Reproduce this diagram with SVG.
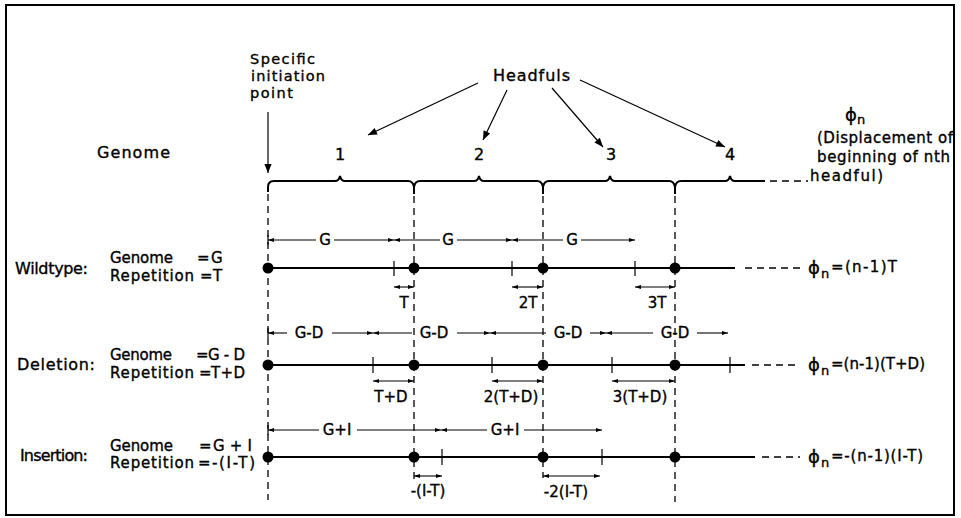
<svg xmlns="http://www.w3.org/2000/svg" width="961" height="518" viewBox="0 0 961 518">
<defs>
  <style>
    text { font-family: "DejaVu Sans", "Liberation Sans", sans-serif; font-size: 15px; fill: #000; stroke: #000; stroke-width: 0.35; }
    .hd { font-size: 16px; }
    .lbl { font-size: 14.5px; }
    .mid { text-anchor: middle; }
    .phi { font-size: 18px; }
    .sub { font-size: 13px; }
    .thin { stroke: #000; stroke-width: 1.2; fill: none; }
    .dim { stroke: #000; stroke-width: 1.1; fill: none; }
    .main { stroke: #000; stroke-width: 2; fill: none; }
    .dash { stroke: #000; stroke-width: 1.3; stroke-dasharray: 7 5; fill: none; }
    .tick { stroke: #000; stroke-width: 1.2; }
    .frame { stroke: #000; stroke-width: 2; fill: none; }
  </style>
  <marker id="ah" viewBox="0 0 10 10" refX="10" refY="5" markerWidth="10" markerHeight="9" markerUnits="userSpaceOnUse" orient="auto-start-reverse">
    <path d="M0,1 L10,5 L0,9 z" fill="#000"/>
  </marker>
  <marker id="dh" viewBox="0 0 10 10" refX="10" refY="5" markerWidth="7" markerHeight="6" markerUnits="userSpaceOnUse" orient="auto-start-reverse">
    <path d="M0,1.5 L10,5 L0,8.5 z" fill="#000"/>
  </marker>
</defs>

<rect class="frame" x="6" y="5" width="948" height="510"/>

<!-- header labels -->
<g id="label-initiation">
  <text class="lbl" x="250" y="64" textLength="65">Specific</text>
  <text class="lbl" x="251" y="81" textLength="74">initiation</text>
  <text class="lbl" x="250" y="98" textLength="43">point</text>
</g>
<g id="label-genome">
  <text class="hd" x="97" y="158" textLength="73">Genome</text>
</g>
<g id="label-headfuls">
  <text class="hd" x="493" y="81" textLength="77">Headfuls</text>
</g>
<g id="headful-numbers">
  <text class="hd mid" x="340" y="160">1</text>
  <text class="hd mid" x="479" y="160">2</text>
  <text class="hd mid" x="611" y="160">3</text>
  <text class="hd mid" x="730" y="160">4</text>
</g>
<g id="label-phi">
  <text class="phi" x="845" y="121">ϕ</text>
  <text class="sub" x="857" y="124">n</text>
  <text x="817" y="143" textLength="136">(Displacement of</text>
  <text x="817" y="162" textLength="133">beginning of nth</text>
  <text x="810" y="181" textLength="73">headful)</text>
</g>

<!-- genome scale: brace line split into headfuls -->
<g id="genome-scale">
  <path class="main" stroke-width="1.6" d="M268,192 L268,187 Q268,181 274,181 L335,181 Q339,181 340,176 Q341,181 345,181 L408,181 Q413,181 414,187 Q415,181 420,181 L474,181 Q478,181 479,176 Q480,181 484,181 L537,181 Q542,181 543,187 Q544,181 549,181 L605,181 Q609,181 610,176 Q611,181 615,181 L669,181 Q674,181 675,187 Q676,181 681,181 L725,181 Q729,181 730,176 Q731,181 735,181 L765,181"/>
  <line class="main" stroke-width="1.6" x1="414" y1="186" x2="414" y2="194"/>
  <line class="main" stroke-width="1.6" x1="543" y1="186" x2="543" y2="194"/>
  <line class="main" stroke-width="1.6" x1="675" y1="186" x2="675" y2="194"/>
  <line class="dash" x1="770" y1="181" x2="808" y2="181"/>
</g>

<!-- packaging start positions -->
<g id="guides">
  <line class="dash" x1="268" y1="194" x2="268" y2="500"/>
  <line class="dash" x1="414" y1="196" x2="414" y2="482"/>
  <line class="dash" x1="543" y1="196" x2="543" y2="478"/>
  <line class="dash" x1="675" y1="196" x2="675" y2="502"/>
</g>

<!-- wildtype -->
<g id="row-wildtype">
  <text class="hd" x="15" y="274" textLength="73">Wildtype:</text>
  <text x="110" y="263" textLength="63">Genome</text>
  <text x="197" y="263">=</text>
  <text x="211" y="263">G</text>
  <text x="110" y="281" textLength="84">Repetition</text>
  <text x="200" y="281">=</text>
  <text x="213" y="281">T</text>

  <line class="main" x1="268" y1="268" x2="735" y2="268"/>
  <line class="dash" x1="745" y1="268" x2="800" y2="268"/>
  <line class="tick" x1="394" y1="261" x2="394" y2="276"/>
  <line class="tick" x1="512" y1="261" x2="512" y2="276"/>
  <line class="tick" x1="635" y1="261" x2="635" y2="276"/>
  <circle cx="268" cy="268" r="5.5"/>
  <circle cx="414" cy="268" r="5.5"/>
  <circle cx="543" cy="268" r="5.5"/>
  <circle cx="675" cy="268" r="5.5"/>

  <line class="tick" x1="268" y1="235" x2="268" y2="245"/>
  <line class="dim" x1="268" y1="240" x2="316" y2="240" marker-start="url(#dh)"/>
  <text class="mid" x="325" y="245">G</text>
  <line class="dim" x1="334" y1="240" x2="394" y2="240" marker-end="url(#dh)"/>
  <line class="dim" x1="394" y1="240" x2="440" y2="240" marker-start="url(#dh)"/>
  <text class="mid" x="448" y="245">G</text>
  <line class="dim" x1="457" y1="240" x2="512" y2="240" marker-end="url(#dh)"/>
  <line class="dim" x1="512" y1="240" x2="563" y2="240" marker-start="url(#dh)"/>
  <text class="mid" x="572" y="245">G</text>
  <line class="dim" x1="581" y1="240" x2="635" y2="240" marker-end="url(#dh)"/>

  <line class="dim" x1="394" y1="287" x2="414" y2="287" marker-start="url(#dh)" marker-end="url(#dh)"/>
  <text class="mid" x="404" y="308">T</text>
  <line class="dim" x1="512" y1="287" x2="543" y2="287" marker-start="url(#dh)" marker-end="url(#dh)"/>
  <text class="mid" x="528" y="308">2T</text>
  <line class="dim" x1="635" y1="287" x2="675" y2="287" marker-start="url(#dh)" marker-end="url(#dh)"/>
  <text class="mid" x="657" y="308">3T</text>

  <text class="phi" x="808" y="274">ϕ</text>
  <text class="sub" x="821" y="278">n</text>
  <text x="831" y="272" textLength="66">=(n-1)T</text>
</g>

<!-- deletion -->
<g id="row-deletion">
  <text class="hd" x="17" y="370" textLength="78">Deletion:</text>
  <text x="110" y="360" textLength="62">Genome</text>
  <text x="196" y="360">=</text>
  <text x="208" y="360" textLength="37">G-D</text>
  <text x="110" y="378" textLength="84">Repetition</text>
  <text x="199" y="378">=</text>
  <text x="211" y="378" textLength="34">T+D</text>

  <line class="main" x1="268" y1="365" x2="745" y2="365"/>
  <line class="dash" x1="752" y1="365" x2="800" y2="365"/>
  <line class="tick" x1="373" y1="357" x2="373" y2="373"/>
  <line class="tick" x1="492" y1="357" x2="492" y2="373"/>
  <line class="tick" x1="612" y1="357" x2="612" y2="373"/>
  <line class="tick" x1="730" y1="357" x2="730" y2="373"/>
  <circle cx="268" cy="365" r="5.5"/>
  <circle cx="414" cy="365" r="5.5"/>
  <circle cx="543" cy="365" r="5.5"/>
  <circle cx="675" cy="365" r="5.5"/>

  <line class="tick" x1="268" y1="328" x2="268" y2="338"/>
  <line class="dim" x1="268" y1="333" x2="287" y2="333" marker-start="url(#dh)"/>
  <text class="mid" x="309" y="338">G-D</text>
  <line class="dim" x1="332" y1="333" x2="373" y2="333" marker-end="url(#dh)"/>
  <line class="dim" x1="373" y1="333" x2="412" y2="333" marker-start="url(#dh)"/>
  <text class="mid" x="434" y="338">G-D</text>
  <line class="dim" x1="457" y1="333" x2="490" y2="333" marker-end="url(#dh)"/>
  <line class="dim" x1="490" y1="333" x2="546" y2="333" marker-start="url(#dh)"/>
  <text class="mid" x="568" y="338">G-D</text>
  <line class="dim" x1="590" y1="333" x2="606" y2="333" marker-end="url(#dh)"/>
  <line class="dim" x1="606" y1="333" x2="653" y2="333" marker-start="url(#dh)"/>
  <text class="mid" x="675" y="338">G-D</text>
  <line class="dim" x1="697" y1="333" x2="728" y2="333" marker-end="url(#dh)"/>

  <line class="dim" x1="373" y1="381" x2="414" y2="381" marker-start="url(#dh)" marker-end="url(#dh)"/>
  <text class="mid" x="391" y="402">T+D</text>
  <line class="dim" x1="492" y1="381" x2="543" y2="381" marker-start="url(#dh)" marker-end="url(#dh)"/>
  <text class="mid" x="511" y="402">2(T+D)</text>
  <line class="dim" x1="612" y1="381" x2="675" y2="381" marker-start="url(#dh)" marker-end="url(#dh)"/>
  <text class="mid" x="640" y="402">3(T+D)</text>

  <text class="phi" x="808" y="371">ϕ</text>
  <text class="sub" x="821" y="375">n</text>
  <text x="831" y="369" textLength="94">=(n-1)(T+D)</text>
</g>

<!-- insertion -->
<g id="row-insertion">
  <text class="hd" x="20" y="461" textLength="68">Insertion:</text>
  <text x="110" y="451" textLength="63">Genome</text>
  <text x="199" y="451">=</text>
  <text x="213" y="451" textLength="39">G+I</text>
  <text x="110" y="468" textLength="84">Repetition</text>
  <text x="198" y="468">=</text>
  <text x="212" y="468" textLength="43">-(I-T)</text>

  <line class="main" x1="268" y1="457" x2="755" y2="457"/>
  <line class="dash" x1="762" y1="457" x2="800" y2="457"/>
  <line class="tick" x1="442" y1="449" x2="442" y2="465"/>
  <line class="tick" x1="602" y1="449" x2="602" y2="465"/>
  <circle cx="268" cy="457" r="5.5"/>
  <circle cx="414" cy="457" r="5.5"/>
  <circle cx="543" cy="457" r="5.5"/>
  <circle cx="675" cy="457" r="5.5"/>

  <line class="tick" x1="268" y1="425" x2="268" y2="435"/>
  <line class="dim" x1="268" y1="430" x2="319" y2="430" marker-start="url(#dh)"/>
  <text class="mid" x="337" y="435">G+I</text>
  <line class="dim" x1="357" y1="430" x2="441" y2="430" marker-end="url(#dh)"/>
  <line class="dim" x1="441" y1="430" x2="487" y2="430" marker-start="url(#dh)"/>
  <text class="mid" x="505" y="435">G+I</text>
  <line class="dim" x1="524" y1="430" x2="602" y2="430" marker-end="url(#dh)"/>

  <line class="dim" x1="414" y1="476" x2="442" y2="476" marker-start="url(#dh)" marker-end="url(#dh)"/>
  <text class="mid" x="428" y="496">-(I-T)</text>
  <line class="dim" x1="543" y1="476" x2="600" y2="476" marker-start="url(#dh)" marker-end="url(#dh)"/>
  <text class="mid" x="566" y="497">-2(I-T)</text>

  <text class="phi" x="808" y="463">ϕ</text>
  <text class="sub" x="821" y="467">n</text>
  <text x="831" y="461" textLength="92">=-(n-1)(I-T)</text>
</g>

<!-- pointer arrows -->
<g id="connectors">
  <line class="thin" x1="268" y1="112" x2="268" y2="173" marker-end="url(#ah)"/>
  <line class="thin" x1="478" y1="83" x2="368" y2="135" marker-end="url(#ah)"/>
  <line class="thin" x1="507" y1="90" x2="483" y2="140" marker-end="url(#ah)"/>
  <line class="thin" x1="552" y1="88" x2="603" y2="147" marker-end="url(#ah)"/>
  <line class="thin" x1="580" y1="80" x2="725" y2="147" marker-end="url(#ah)"/>
</g>
</svg>
